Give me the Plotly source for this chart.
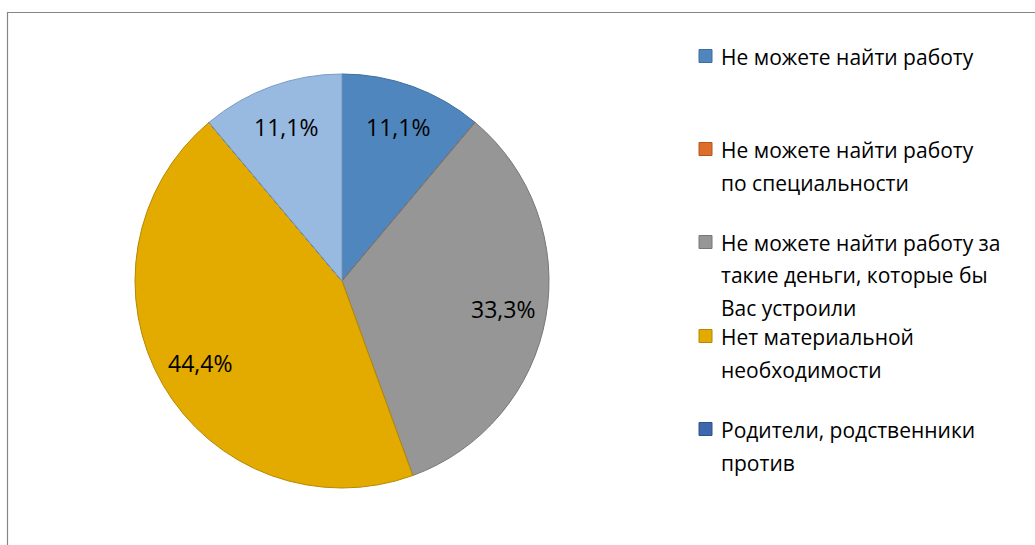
import math
import plotly.graph_objects as go

labels = [
    "Не можете найти работу",
    "Не можете найти работу<br>по специальности",
    "Не можете найти работу за<br>такие деньги, которые бы<br>Вас устроили",
    "Нет материальной<br>необходимости",
    "Родители, родственники<br>против",
    "Другое",
]
values = [11.1, 0, 33.3, 44.4, 0, 11.1]
colors = ["#4F86BD", "#DD6E2B", "#969696", "#E3AA00", "#3F67AE", "#98B9E0"]
edge_colors = ["#3F6E9E", "#B0561F", "#777777", "#B58800", "#2F508A", "#7C9CC2"]
legend_shown = 5

W, H = 1035, 545
cx, cy, r = 342, 281, 207
FONT = "Open Sans"

fig = go.Figure(go.Pie(
    labels=labels, values=values,
    textinfo="none",
    sort=False, direction="clockwise", rotation=0,
    marker=dict(colors=colors, line=dict(color=edge_colors, width=1)),
    domain=dict(x=[(cx - r) / W, (cx + r) / W], y=[1 - (cy + r) / H, 1 - (cy - r) / H]),
    showlegend=False, hoverinfo="skip",
))

annotations = []
# data labels, placed at ~0.79 of the radius along each slice's mid-angle
total = sum(values)
cum = 0.0
for v in values:
    if v > 0:
        mid = (cum + v / 2) / total * 2 * math.pi
        lr = 0.79 * r
        px = cx + lr * math.sin(mid)
        py = cy - lr * math.cos(mid)
        annotations.append(dict(xref="paper", yref="paper", x=px / W, y=1 - py / H,
                                xanchor="center", yanchor="middle", showarrow=False,
                                text=("%.1f%%" % v).replace(".", ","),
                                font=dict(family=FONT, size=23, color="#000000")))
    cum += v

shapes = [dict(type="rect", xref="paper", yref="paper", x0=7.5 / W, x1=1.05, y0=-0.05, y1=1 - 12.5 / H,
               line=dict(color="#868686", width=1.2), fillcolor="rgba(0,0,0,0)")]
line_h = 32.5
tops = [56, 149, 242, 336, 429]
for i in range(legend_shown):
    y0 = tops[i]
    shapes.append(dict(type="rect", xref="paper", yref="paper",
                       x0=699 / W, x1=712 / W, y0=1 - (y0 + 6.5) / H, y1=1 - (y0 - 6.5) / H,
                       fillcolor=colors[i], line=dict(color=edge_colors[i], width=1)))
    for j, ln in enumerate(labels[i].split("<br>")):
        annotations.append(dict(xref="paper", yref="paper", x=719 / W, y=1 - (y0 + 1 + j * line_h) / H,
                                xanchor="left", yanchor="middle", showarrow=False, text=ln,
                                font=dict(family=FONT, size=21, color="#000000")))

fig.update_layout(width=W, height=H, margin=dict(l=0, r=0, t=0, b=0),
                  paper_bgcolor="white", plot_bgcolor="white",
                  shapes=shapes, annotations=annotations)
fig.write_html("out.html", config={"displayModeBar": False},
               post_script="document.body.style.margin='0';document.body.style.overflow='hidden';")
